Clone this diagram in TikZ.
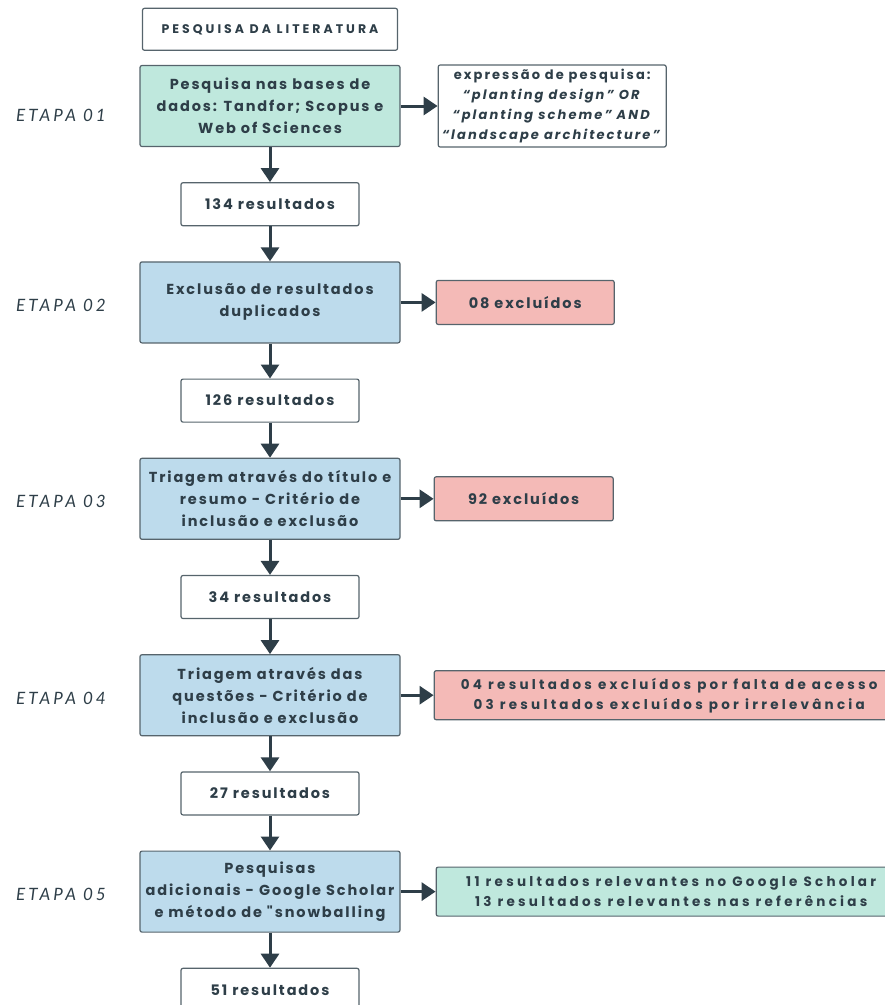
\documentclass[tikz,border=0pt]{standalone}
\usepackage{fontspec}
\setmainfont{Poppins}[Ligatures=TeXOff]
\newfontfamily\etapafont{Lato}[LetterSpace=18]
\newcommand{\espaco}[1]{\addfontfeature{LetterSpace=#1}}
\usetikzlibrary{positioning}
\usetikzlibrary{chains,arrows.meta}
\definecolor{tinta}{HTML}{2E3E48}
\definecolor{borda}{HTML}{56646C}
\definecolor{verde}{HTML}{BFE8DD}
\definecolor{azul}{HTML}{BDDBEC}
\definecolor{rosa}{HTML}{F4BAB7}
\tikzset{
	>={Triangle[width=18pt,length=14pt]},
	caixa/.style={
		rectangle,
		rounded corners=2pt,
		draw=borda, line width=1.2pt,
		text=tinta,
		font=\bfseries\fontsize{14.5}{22}\selectfont\espaco{13},
		align=center},
	etapa/.style={
		caixa,
		fill=azul,
		minimum width=260pt,
		minimum height=81pt,
		on chain},
	resultado/.style={
		caixa,
		fill=white,
		minimum width=178pt,
		minimum height=43pt,
		on chain},
	lado/.style={caixa, minimum height=44pt},
	largo/.style={font=\bfseries\fontsize{13.5}{20}\selectfont\espaco{24}},
	rotulo/.style={text=tinta, yshift=-3pt, font=\etapafont\itshape\fontsize{17}{19}\selectfont},
	seta/.style={->, draw=tinta, line width=3pt},
	every join/.style={seta},
}
\begin{document}
\begin{tikzpicture}
		[node distance=35pt, start chain=going below]
		\useasboundingbox (0,0) rectangle (885pt,-1005pt);
		\node[etapa, fill=verde] at (270pt,-106pt) (e1) {Pesquisa nas bases de\\dados: Tandfor; Scopus e\\Web of Sciences};
		\node[resultado, join] (r1) {134 resultados};
		\node[etapa, join] (e2) {Exclusão de resultados\\duplicados};
		\node[resultado, join] (r2) {126 resultados};
		\node[etapa, join] (e3) {Triagem através do título e\\resumo - Critério de\\inclusão e exclusão};
		\node[resultado, join] (r3) {34 resultados};
		\node[etapa, join] (e4) {Triagem através das\\questões - Critério de\\inclusão e exclusão};
		\node[resultado, join] (r4) {27 resultados};
		\node[etapa, join] (e5) {Pesquisas\\adicionais - Google Scholar\\e método de "snowballing};
		\node[resultado, join] (r5) {51 resultados};
		% titulo
		\node[caixa, fill=white, minimum width=255pt, minimum height=42pt, above=14pt of e1, font=\bfseries\fontsize{12.5}{14}\selectfont\espaco{24}] (titulo) {PESQUISA DA LITERATURA};
		% caixas laterais
		\node[lado, fill=white, minimum width=228pt, minimum height=82pt, right=37pt of e1, font=\bfseries\fontsize{13}{19.7}\selectfont\espaco{16}] (x1) {expressão de pesquisa:\\\textit{“planting design” OR}\\\textit{“planting scheme” AND}\\\textit{“landscape architecture”}};
		\node[lado, fill=rosa, minimum width=178pt, right=35pt of e2] (x2) {08 excluídos};
		\node[lado, fill=rosa, minimum width=179pt, right=33pt of e3] (x3) {92 excluídos};
		\node[lado, largo, fill=rosa, minimum width=470pt, minimum height=49pt, right=33pt of e4] (x4) {04 resultados excluídos por falta de acesso\\03 resultados excluídos por irrelevância};
		\node[lado, largo, fill=verde, minimum width=470pt, minimum height=49pt, right=35pt of e5] (x5) {11 resultados relevantes no Google Scholar\\13 resultados relevantes nas referências};
		\foreach \i in {1,...,5} \draw[seta] (e\i) -- (x\i);
		% rotulos
		\node[rotulo, left=30pt of e1, yshift=-6pt] (l1) {ETAPA 01};
		\node[rotulo, left=30pt of e2] (l2) {ETAPA 02};
		\node[rotulo, left=30pt of e3] (l3) {ETAPA 03};
		\node[rotulo, left=30pt of e4] (l4) {ETAPA 04};
		\node[rotulo, left=30pt of e5] (l5) {ETAPA 05};
\end{tikzpicture}
\end{document}
